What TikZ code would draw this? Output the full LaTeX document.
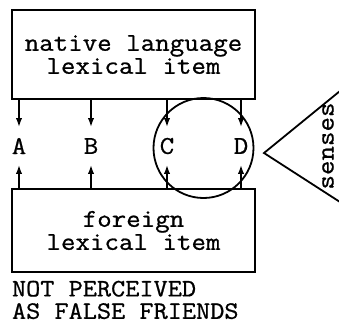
\documentclass[tikz,border=0pt]{standalone}
\usepackage{fontspec}
\newfontfamily\typewr[FakeStretch=1.1,FakeBold=0.8]{lmmono12-regular.otf}
\usetikzlibrary{arrows.meta,positioning}

\begin{document}
\begin{tikzpicture}[x=0.5pt,y=-0.5pt,line width=0.9pt,
    every node/.style={font=\typewr\fontsize{12.8}{11.5}\selectfont},
    itembox/.style={draw, minimum width=121.5pt, align=center},
    sense/.style={inner sep=0pt, minimum height=18pt},
    arr/.style={-{Latex[length=4.5pt,width=3.2pt]}}]
    \useasboundingbox (0,0) rectangle (339,323);

    \node (native) [itembox, minimum height=44.5pt] at (133.5,54.5) {native language\\lexical item};
    \node (foreign) [itembox, minimum height=41.5pt] at (133.5,230.5) {foreign\\lexical item};

    \foreach \lbl/\x in {A/19,B/91,C/167,D/241} {
        \node (\lbl) [sense] at (\x,146) {\lbl};
        \draw[arr] (native.south -| \lbl.north) -- (\lbl.north);
        \draw[arr] (foreign.north -| \lbl.south) -- (\lbl.south);
    }

    \node (overlap) [draw, circle, inner sep=0pt, minimum size=50pt] at (203.5,148) {};

    \coordinate (apex) at (264,153);
    \coordinate (tipup) at (340,91);
    \coordinate (tiplow) at (340,202);
    \draw (tipup) -- (apex) -- (tiplow);
    \node (senses) [rotate=90, inner sep=1pt] at (328,146) {senses};

    \node (note) [anchor=north west, inner sep=0pt, align=left, font=\typewr\fontsize{12.5}{11.2}\selectfont] at ([yshift=-3.5pt]foreign.south west) {NOT PERCEIVED\\AS FALSE FRIENDS};

\end{tikzpicture}
\end{document}
